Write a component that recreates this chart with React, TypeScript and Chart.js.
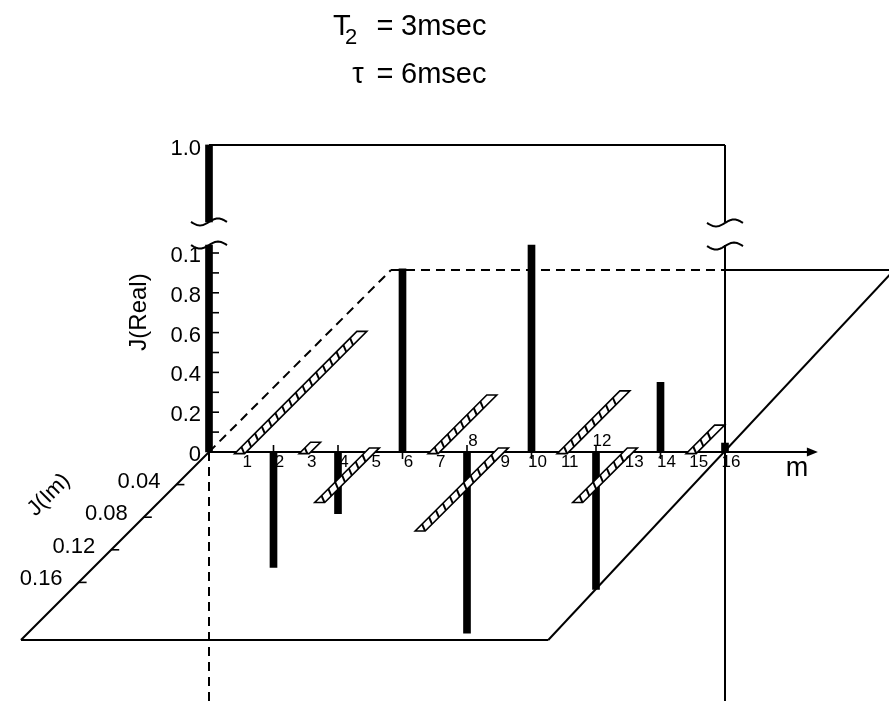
import { useEffect, useRef } from "react";
import { Chart, registerables } from "chart.js";

Chart.register(...registerables);

// ---------------- data ----------------
const peakM = 0;
const peakValue = 1.0; // off-scale peak, drawn through the axis break
const peakLabel = "1.0";
const realM = [2, 4, 6, 8, 10, 12, 14, 16];
const realParts = [-0.058, -0.031, 0.092, -0.091, 0.104, -0.069, 0.035, 0.0045];
const imagM = [1, 3, 5, 7, 9, 11, 13, 15];
const imagParts = [-0.148, -0.012, 0.062, -0.07, 0.097, -0.075, 0.062, -0.033];
const mTicks = [1, 2, 3, 4, 5, 6, 7, 8, 9, 10, 11, 12, 13, 14, 15, 16];
const mLabelsAbove = [8, 12];
const realTickValues = [0, 0.02, 0.04, 0.06, 0.08, 0.1];
const realTickLabels = ["0", "0.2", "0.4", "0.6", "0.8", "0.1"];
const realMinorTicks = [0.01, 0.02, 0.03, 0.04, 0.05, 0.06, 0.07, 0.08, 0.09, 0.1];
const imTickValues = [0.04, 0.08, 0.12, 0.16];
const imTickLabels = ["0.04", "0.08", "0.12", "0.16"];
const titleLine1 = { sym: "T", sub: "2", eq: "=", rest: "3msec" };
const titleLine2 = { sym: "τ", eq: "=", rest: "6msec" };
const xAxisTitle = "m";
const realAxisTitle = "J(Real)";
const imAxisTitle = "J(Im)";

// ---------------- layout (pixels / projection) ----------------
const W = 889;
const H = 701;
const ORIGIN_X = 209;
const ORIGIN_Y = 452;
const PX_PER_M = 32.25;
const PX_PER_RE = 1990;
const PX_PER_IM = 815;
const X_MIN = -ORIGIN_X / PX_PER_M;
const X_MAX = (W - ORIGIN_X) / PX_PER_M;
const Y_MAX = ORIGIN_Y / PX_PER_RE;
const Y_MIN = -(H - ORIGIN_Y) / PX_PER_RE;
const IM_DX = -PX_PER_IM / PX_PER_M; // oblique Im axis, in m units per Im unit
const IM_DY = -PX_PER_IM / PX_PER_RE; // in Re units per Im unit
const AXIS_TOP = 0.1;
const BREAK_LOW = 0.104;
const BREAK_HIGH = 0.1156;
const TOP_LEVEL = 0.1543;
const PLANE_FRONT = 0.2307;
const PLANE_BACK = -0.2233;
const PLANE_FR_M = 16.35;
const PLANE_BR_M = 15.6;
const FRAME_M = 16;
const ARROW_M = 18.88;
const HATCH_HALF_W = 5 / PX_PER_M;
const HATCH_OVERSHOOT = 0.005;
const FF = "'Liberation Sans', Arial, Helvetica, sans-serif";

function makeProj(chart: any) {
  const xs = chart.scales.x;
  const ys = chart.scales.y;
  return (m: number, im: number, re: number): [number, number] => [
    xs.getPixelForValue(m + im * IM_DX),
    ys.getPixelForValue(re + im * IM_DY),
  ];
}

function tilde(ctx: CanvasRenderingContext2D, cx: number, cy: number) {
  ctx.beginPath();
  for (let i = 0; i <= 24; i++) {
    const t = -1 + (2 * i) / 24;
    const x = cx + 18 * t;
    const y = cy - 3.5 * Math.sin(Math.PI * t);
    if (i === 0) ctx.moveTo(x, y);
    else ctx.lineTo(x, y);
  }
  ctx.stroke();
}

const pseudo3d = {
  id: "pseudo3d",
  beforeDatasetsDraw(chart: any) {
    const ctx: CanvasRenderingContext2D = chart.ctx;
    const P = makeProj(chart);
    ctx.save();
    ctx.strokeStyle = "#000";
    ctx.fillStyle = "#000";
    ctx.lineWidth = 2;
    const line = (a: number[], b: number[], dash: number[] = []) => {
      ctx.setLineDash(dash);
      ctx.beginPath();
      ctx.moveTo(a[0], a[1]);
      ctx.lineTo(b[0], b[1]);
      ctx.stroke();
    };
    const DASH = [9, 6];
    const O = P(0, 0, 0);
    const FL = P(0, PLANE_FRONT, 0);
    const FR = P(PLANE_FR_M, PLANE_FRONT, 0);
    const BR = P(PLANE_BR_M, PLANE_BACK, 0);
    const BL = P(0, PLANE_BACK, 0);
    const backAtFrame = P(FRAME_M - PLANE_BACK * IM_DX, PLANE_BACK, 0);
    // plane
    line(O, FL);
    line(FL, FR);
    line(FR, BR);
    line(backAtFrame, BR);
    line(O, BL, DASH);
    line(BL, backAtFrame, DASH);
    line(O, P(0, 0, Y_MIN), DASH);
    // frame
    line(P(0, 0, TOP_LEVEL), P(FRAME_M, 0, TOP_LEVEL));
    line(P(FRAME_M, 0, TOP_LEVEL), P(FRAME_M, 0, BREAK_HIGH));
    line(P(FRAME_M, 0, BREAK_LOW), P(FRAME_M, 0, Y_MIN));
    // m axis with arrow
    const tip = P(ARROW_M, 0, 0);
    line(O, [tip[0] - 6, tip[1]]);
    ctx.setLineDash([]);
    ctx.beginPath();
    ctx.moveTo(tip[0], tip[1]);
    ctx.lineTo(tip[0] - 11, tip[1] - 4.5);
    ctx.lineTo(tip[0] - 11, tip[1] + 4.5);
    ctx.closePath();
    ctx.fill();
    // real axis minor ticks
    ctx.lineWidth = 1.6;
    realMinorTicks.forEach((v) => {
      const p = P(0, 0, v);
      line([p[0] + 3, p[1]], [p[0] + 10, p[1]]);
    });
    // even m ticks on the side opposite to the bar
    realM.forEach((m, i) => {
      const p = P(m, 0, 0);
      const dir = realParts[i] < 0 ? -1 : 1;
      line([p[0], p[1]], [p[0], p[1] + dir * 7]);
    });
    // Im axis ticks
    imTickValues.forEach((v) => {
      const p = P(0, v, 0);
      line(p, [p[0] + 8, p[1]]);
    });
    ctx.restore();
  },
  afterDatasetsDraw(chart: any) {
    const ctx: CanvasRenderingContext2D = chart.ctx;
    const P = makeProj(chart);
    ctx.save();
    ctx.strokeStyle = "#000";
    ctx.fillStyle = "#000";
    ctx.setLineDash([]);

    // hatched imaginary-part bars lying in the plane
    imagM.forEach((m, i) => {
      const v = imagParts[i];
      const start = v < 0 ? HATCH_OVERSHOOT * 0.4 : -HATCH_OVERSHOOT;
      const a = P(m - HATCH_HALF_W, start, 0);
      const b = P(m + HATCH_HALF_W, start, 0);
      const c = P(m + HATCH_HALF_W, v, 0);
      const d = P(m - HATCH_HALF_W, v, 0);
      ctx.beginPath();
      ctx.moveTo(a[0], a[1]);
      ctx.lineTo(b[0], b[1]);
      ctx.lineTo(c[0], c[1]);
      ctx.lineTo(d[0], d[1]);
      ctx.closePath();
      ctx.fillStyle = "#fff";
      ctx.fill();
      const len = Math.abs(d[1] - a[1]);
      const n = Math.max(2, Math.floor(len / 6.5));
      ctx.lineWidth = 2;
      ctx.save();
      ctx.clip();
      for (let k = 1; k < n; k++) {
        const t1 = k / n;
        const L = [a[0] + (d[0] - a[0]) * t1, a[1] + (d[1] - a[1]) * t1];
        const t2 = (L[0] + 3 - b[0]) / (c[0] - b[0]);
        const R = [b[0] + (c[0] - b[0]) * t2, b[1] + (c[1] - b[1]) * t2];
        ctx.beginPath();
        ctx.moveTo(L[0], L[1]);
        ctx.lineTo(R[0], R[1]);
        ctx.stroke();
      }
      ctx.restore();
      ctx.beginPath();
      ctx.moveTo(a[0], a[1]);
      ctx.lineTo(b[0], b[1]);
      ctx.lineTo(c[0], c[1]);
      ctx.lineTo(d[0], d[1]);
      ctx.closePath();
      ctx.lineWidth = 1.6;
      ctx.stroke();
    });

    // axis breaks
    ctx.lineWidth = 2;
    const bl0 = P(peakM, 0, BREAK_LOW);
    const bh0 = P(peakM, 0, BREAK_HIGH);
    tilde(ctx, bl0[0], bl0[1]);
    tilde(ctx, bh0[0], bh0[1]);
    const bl1 = P(FRAME_M, 0, BREAK_LOW);
    const bh1 = P(FRAME_M, 0, BREAK_HIGH);
    tilde(ctx, bl1[0], bl1[1] + 1);
    tilde(ctx, bh1[0], bh1[1] + 1);

    ctx.fillStyle = "#000";
    // real axis tick labels
    ctx.font = `22px ${FF}`;
    ctx.textAlign = "right";
    ctx.textBaseline = "middle";
    realTickValues.forEach((v, i) => {
      const p = P(0, 0, v);
      ctx.fillText(realTickLabels[i], p[0] - 8, p[1] + 3);
    });
    const pk = P(peakM, 0, TOP_LEVEL);
    ctx.fillText(peakLabel, pk[0] - 8, pk[1] + 4);

    // Im axis tick labels
    imTickValues.forEach((v, i) => {
      const p = P(0, v, 0);
      ctx.fillText(imTickLabels[i], p[0] - 16, p[1] - 3);
    });

    // m tick labels
    ctx.font = `17px ${FF}`;
    ctx.textAlign = "center";
    mTicks.forEach((m, i) => {
      const p = P(m, 0, 0);
      const above = mLabelsAbove.includes(m);
      ctx.fillText(String(mTicks[i]), p[0] + 6, above ? p[1] - 11 : p[1] + 10);
    });

    // axis titles
    const O = P(0, 0, 0);
    const tip = P(ARROW_M, 0, 0);
    ctx.font = `27px ${FF}`;
    ctx.fillText(xAxisTitle, tip[0] - 21, tip[1] + 17);

    ctx.font = `24px ${FF}`;
    ctx.save();
    ctx.translate(O[0] - 70, O[1] - 140);
    ctx.rotate(-Math.PI / 2);
    ctx.fillText(realAxisTitle, 0, 0);
    ctx.restore();

    ctx.font = `22px ${FF}`;
    ctx.save();
    ctx.translate(O[0] - 160, O[1] + 43);
    ctx.rotate(-Math.PI / 4);
    ctx.fillText(imAxisTitle, 0, 0);
    ctx.restore();

    // title block
    ctx.textBaseline = "alphabetic";
    ctx.font = `29px ${FF}`;
    ctx.textAlign = "left";
    ctx.fillText(titleLine1.sym, 333, 35);
    ctx.font = `22px ${FF}`;
    ctx.fillText(titleLine1.sub, 345, 44);
    ctx.font = `29px ${FF}`;
    ctx.textAlign = "center";
    ctx.fillText(titleLine1.eq, 385, 35);
    ctx.textAlign = "left";
    ctx.fillText(titleLine1.rest, 401, 35);
    ctx.textAlign = "center";
    ctx.fillText(titleLine2.sym, 358, 83);
    ctx.fillText(titleLine2.eq, 385, 83);
    ctx.textAlign = "left";
    ctx.fillText(titleLine2.rest, 401, 83);

    ctx.restore();
  },
};

export default function App() {
  const ref = useRef<HTMLCanvasElement>(null);
  useEffect(() => {
    document.body.style.margin = "0";
    const barData: any[] = [];
    if (peakValue > AXIS_TOP) {
      barData.push({ x: peakM, y: [0, BREAK_LOW] });
      barData.push({ x: peakM, y: [BREAK_HIGH, TOP_LEVEL] });
    } else {
      barData.push({ x: peakM, y: [0, peakValue] });
    }
    realM.forEach((m, i) => barData.push({ x: m, y: [0, realParts[i]] }));

    const chart = new Chart(ref.current as HTMLCanvasElement, {
      type: "bar",
      data: {
        datasets: [
          {
            data: barData,
            backgroundColor: "#000",
            borderWidth: 0,
            barThickness: 7,
            grouped: false,
          } as any,
        ],
      },
      options: {
        responsive: false,
        animation: false,
        devicePixelRatio: 1,
        layout: { padding: 0 },
        plugins: {
          legend: { display: false },
          tooltip: { enabled: false },
          title: { display: false },
        },
        scales: {
          x: { type: "linear", min: X_MIN, max: X_MAX, display: false, offset: false },
          y: { type: "linear", min: Y_MIN, max: Y_MAX, display: false },
        },
      } as any,
      plugins: [pseudo3d],
    });
    return () => chart.destroy();
  }, []);
  return <canvas ref={ref} width={W} height={H} style={{ display: "block" }} />;
}
